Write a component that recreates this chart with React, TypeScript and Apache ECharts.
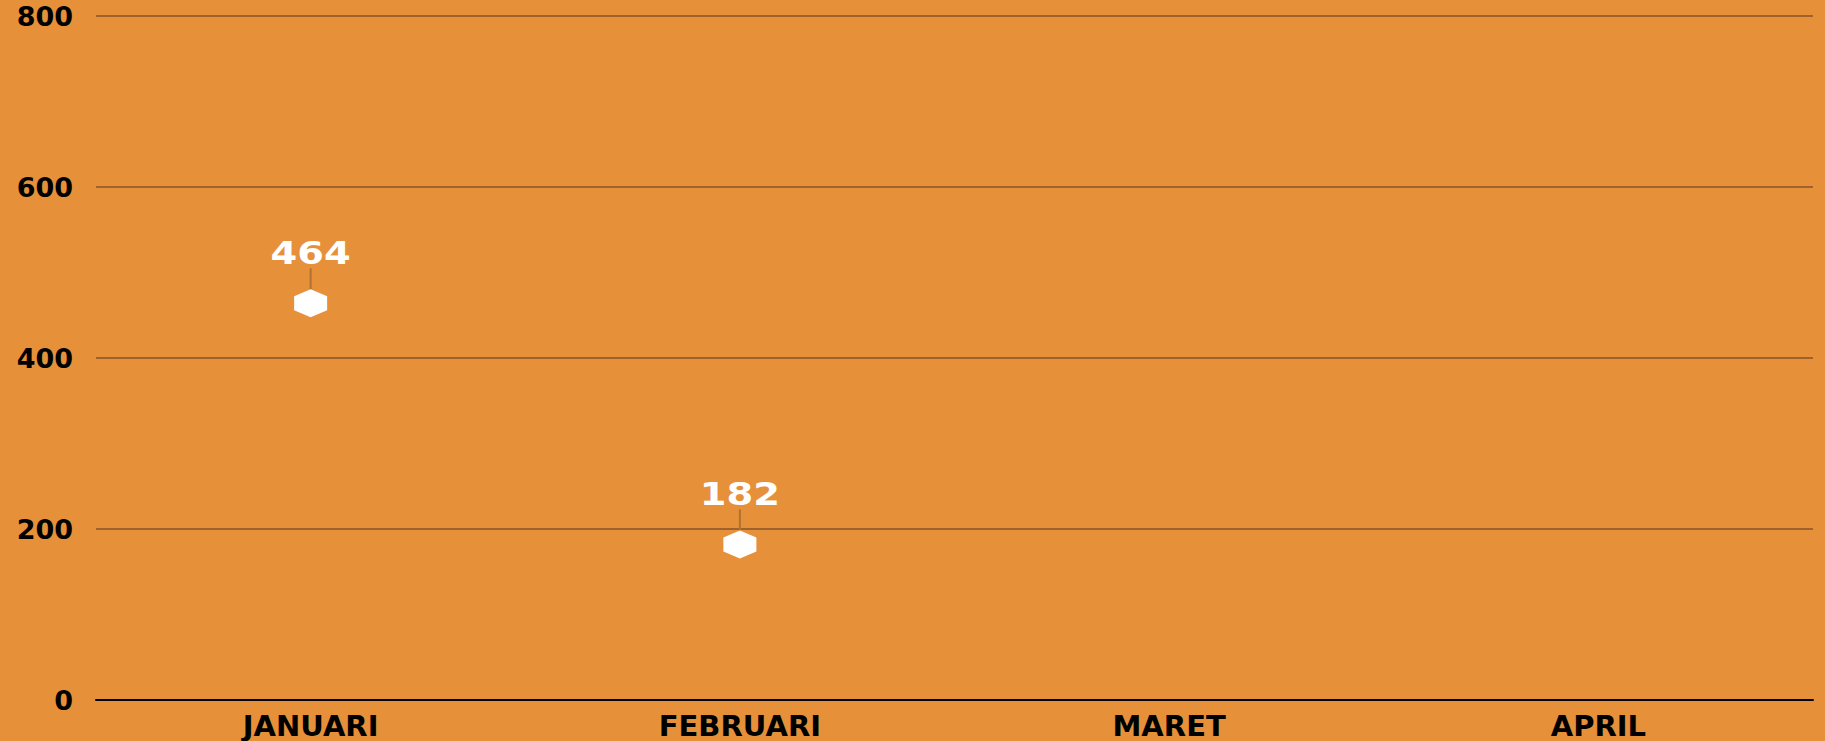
import React, { useEffect, useRef } from "react";
import * as echarts from "echarts";

const categories = ["JANUARI", "FEBRUARI", "MARET", "APRIL"];
const values: (number | null)[] = [464, 182, null, null];
const yTicks = { min: 0, max: 800, interval: 200 };

export default function App() {
  const ref = useRef<HTMLDivElement>(null);
  useEffect(() => {
    if (!ref.current) return;
    const chart = echarts.init(ref.current, undefined, { renderer: "svg" });
    const data = values
      .map((v, i) => (v == null ? null : [i, v]))
      .filter((d) => d !== null) as number[][];
    chart.setOption({
      animation: false,
      backgroundColor: "#E6913A",
      grid: { left: 96, right: 12, top: 16, bottom: 41, containLabel: false },
      xAxis: {
        type: "category",
        data: categories,
        boundaryGap: true,
        axisLine: { show: true, lineStyle: { color: "#000", width: 2 } },
        axisTick: { show: false },
        axisLabel: {
          color: "#000",
          fontFamily: "DejaVu Sans",
          fontWeight: "bold",
          fontSize: 29,
          lineHeight: 29,
          margin: 11,
        },
        splitLine: { show: false },
      },
      yAxis: {
        type: "value",
        min: yTicks.min,
        max: yTicks.max,
        interval: yTicks.interval,
        axisLine: { show: false },
        axisTick: { show: false },
        axisLabel: {
          color: "#000",
          fontFamily: "DejaVu Sans",
          fontWeight: "bold",
          fontSize: 27,
          margin: 23,
        },
        splitLine: { show: true, lineStyle: { color: "#a0622c", width: 2 } },
      },
      series: [
        {
          type: "custom",
          data,
          renderItem: (params: any, api: any) => {
            const idx = api.value(0);
            const val = api.value(1);
            const [x, y] = api.coord([idx, val]);
            const hw = 16.5;
            const hh = 14;
            return {
              type: "group",
              children: [
                {
                  type: "line",
                  shape: { x1: x, y1: y - hh, x2: x, y2: y - 35 },
                  style: { stroke: "#b0702f", lineWidth: 2 },
                },
                {
                  type: "polygon",
                  shape: {
                    points: [
                      [x, y - hh],
                      [x + hw, y - hh / 2],
                      [x + hw, y + hh / 2],
                      [x, y + hh],
                      [x - hw, y + hh / 2],
                      [x - hw, y - hh / 2],
                    ],
                  },
                  style: { fill: "#ffffff" },
                },
                {
                  type: "text",
                  x: x,
                  y: y - 51,
                  scaleX: 1.2,
                  style: {
                    text: String(val),
                    fill: "#ffffff",
                    font: "bold 32px 'DejaVu Sans'",
                    align: "center",
                    verticalAlign: "middle",
                  },
                },
              ],
            };
          },
        },
      ],
    });
    return () => chart.dispose();
  }, []);
  return (
    <div
      ref={ref}
      style={{ position: "fixed", left: 0, top: 0, width: 1825, height: 741 }}
    />
  );
}
